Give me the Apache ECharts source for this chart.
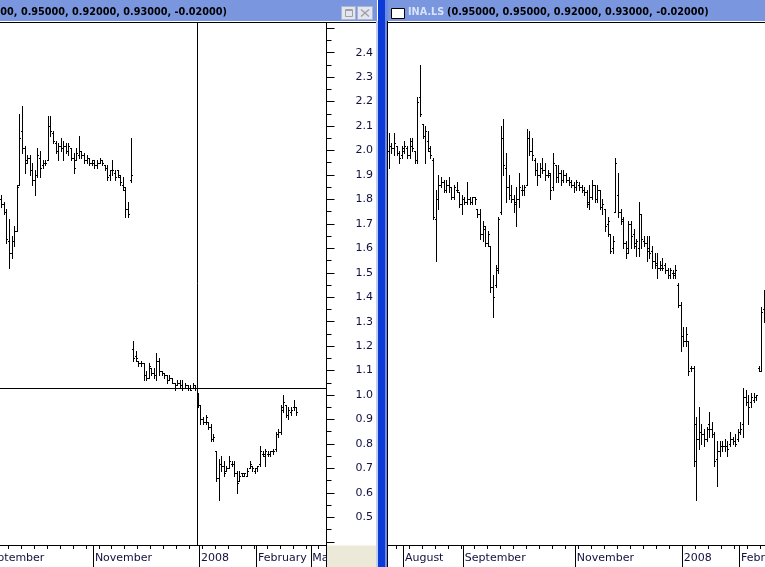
<!DOCTYPE html>
<html><head><meta charset="utf-8">
<script src="https://cdn.jsdelivr.net/npm/echarts@6/dist/echarts.min.js"></script>
<style>html,body{margin:0;padding:0;background:#fff;}#c{width:765px;height:567px;}</style>
</head><body><div id="c"></div>
<script>
// ---------- data ----------
const symbol = 'INA.LS';
const yTickLabels = ['0.5','0.6','0.7','0.8','0.9','1.0','1.1','1.2','1.3','1.4','1.5','1.6','1.7','1.8','1.9','2.0','2.1','2.2','2.3','2.4'];

// left pane (daily bars; index 0 = first September session)
const leftCount = 133;
const leftStart = 7;
const leftMonthNames = ['September','November','2008','February','March'];
const leftMonthIdx = [0, 43, 84, 106, 127];
const leftOpen = [1.80,1.78,1.75,1.63,1.58,1.63,1.67,1.86,2.08,2.01, 1.96,1.97,1.92,1.88,1.90,1.97,1.94,1.95,1.96,2.10, 2.07,2.03,2.00,2.02,2.01,2.02,2.00,2.01,1.97,1.96, 1.98,2.00,1.98,1.96,1.97,1.95,1.95,1.94,1.95,1.96, 1.94,1.93,1.90,1.92,1.91,1.92,1.89,1.86,1.84,1.76, 1.88,
  1.19,1.16,1.14,1.13,1.13,1.08,1.07,1.11,1.09,1.08, 1.14,1.10,1.09,1.08,1.06,1.07,1.05,1.04,1.05,1.04, 1.03,1.04,1.03,1.03,1.04,1.01,0.96,0.90,0.89,0.89, 0.87,0.82,0.77,0.66,0.72,0.71,0.69,0.70,0.72,0.72, 0.68,0.65,0.68,0.67,0.67,0.70,0.71,0.69,0.70,0.72, 0.76,0.75,0.76,0.76,0.77,0.78,0.84,0.85,0.95,0.96, 0.92,0.93,0.95,0.95];
const leftHigh = [1.82,1.79,1.76,1.72,1.65,1.69,1.86,2.15,2.18,2.02, 1.98,1.98,1.95,1.92,2.01,2.00,1.96,1.96,2.14,2.14, 2.08,2.04,2.03,2.05,2.04,2.03,2.03,2.01,1.99,2.01, 2.06,2.00,1.99,1.98,1.97,1.96,1.96,1.96,1.97,1.96, 1.94,1.94,1.92,1.96,1.92,1.92,1.90,1.89,1.85,1.79, 2.05,
  1.22,1.18,1.14,1.14,1.13,1.10,1.13,1.11,1.11,1.17, 1.15,1.10,1.09,1.08,1.08,1.07,1.05,1.06,1.06,1.06, 1.05,1.04,1.04,1.05,1.04,1.01,0.96,0.91,0.92,0.89, 0.88,0.84,0.77,0.74,0.75,0.73,0.71,0.75,0.73,0.73, 0.69,0.69,0.68,0.68,0.70,0.73,0.71,0.70,0.71,0.79, 0.77,0.78,0.77,0.77,0.78,0.85,0.86,0.96,1.00,0.96, 0.95,0.95,0.98,0.95];
const leftLow = [1.77,1.74,1.62,1.52,1.56,1.61,1.67,1.86,1.99,1.91, 1.95,1.90,1.86,1.82,1.89,1.89,1.93,1.94,1.96,2.06, 2.03,1.99,1.96,2.00,1.96,1.99,1.98,1.96,1.91,1.96, 1.97,1.97,1.95,1.95,1.94,1.94,1.93,1.93,1.95,1.94, 1.92,1.88,1.88,1.90,1.88,1.89,1.86,1.84,1.73,1.73, 1.87,
  1.14,1.14,1.12,1.12,1.06,1.06,1.07,1.08,1.07,1.06, 1.08,1.08,1.07,1.05,1.06,1.05,1.02,1.04,1.03,1.02, 1.03,1.02,1.02,1.03,1.02,0.95,0.88,0.88,0.88,0.86, 0.81,0.81,0.65,0.57,0.69,0.67,0.69,0.70,0.71,0.67, 0.60,0.65,0.67,0.67,0.67,0.70,0.69,0.68,0.69,0.71, 0.75,0.71,0.75,0.75,0.76,0.77,0.83,0.84,0.93,0.91, 0.90,0.92,0.94,0.92];
const leftClose = [1.78,1.75,1.64,1.58,1.63,1.67,1.85,2.05,2.01,1.95, 1.97,1.92,1.88,1.90,1.98,1.93,1.95,1.95,2.10,2.08, 2.04,2.00,2.02,2.01,2.02,2.00,2.02,1.97,1.93,1.99, 2.00,1.98,1.96,1.97,1.95,1.96,1.94,1.95,1.96,1.95, 1.93,1.89,1.92,1.92,1.89,1.90,1.87,1.85,1.76,1.74, 1.90,
  1.15,1.15,1.13,1.13,1.08,1.07,1.12,1.09,1.08,1.14, 1.10,1.09,1.08,1.06,1.07,1.05,1.03,1.05,1.04,1.03, 1.04,1.03,1.02,1.04,1.03,0.96,0.90,0.89,0.91,0.87, 0.82,0.83,0.66,0.72,0.71,0.68,0.70,0.73,0.72,0.68, 0.64,0.67,0.68,0.68,0.69,0.72,0.70,0.70,0.71,0.77, 0.76,0.77,0.76,0.77,0.77,0.84,0.85,0.94,0.97,0.92, 0.94,0.94,0.95,0.93];
const crossIdx = 83;
const crossPrice = 1.028;

// right pane
const rightCount = 145;
const rightStart = 0;
const rightMonthNames = ['August','September','November','2008','February'];
const rightMonthIdx = [6, 29, 72, 113, 135];
const rightOpen = [2.00,2.02,2.01,2.02,1.99,1.98,2.00,2.01,1.98,2.02, 2.00,1.96,2.22,2.11,2.06,2.04,2.00,1.96,1.72,1.80, 1.86,1.87,1.84,1.86,1.85,1.81,1.84,1.83,1.78,1.80, 1.79,1.80,1.79,1.81,1.76,1.74,1.66,1.68,1.62,1.61, 1.44,1.45,1.52,1.75,2.05,1.93,1.85,1.82,1.80,1.79, 1.80,1.84,1.84,1.86,2.05,2.00,1.96,1.92,1.90,1.93, 1.92,1.90,1.90,1.85,1.94,1.89,1.91,1.88,1.90,1.88, 1.87,1.86,1.85,1.86,1.85,1.84,1.83,1.79,1.81,1.86, 1.80,1.84,1.77,1.76,1.70,1.66,1.60,1.75,1.82,1.75, 1.71,1.62,1.60,1.70,1.66,1.61,1.60,1.74,1.63,1.62, 1.60,1.59,1.55,1.53,1.52,1.52,1.53,1.51,1.49,1.50, 1.50,1.45,1.37,1.24,1.22,1.22,1.11,1.11,0.88,0.82, 0.85,0.84,0.82,0.88,0.86,0.84,0.74,0.77,0.79,0.79, 0.79,0.80,0.82,0.81,0.82,0.85,0.88,0.99,0.97,0.97, 0.98,0.99,1.11,1.10,1.35];
const rightHigh = [2.07,2.03,2.07,2.02,2.00,2.02,2.04,2.02,2.05,2.05, 2.00,2.22,2.35,2.11,2.10,2.08,2.02,1.97,1.84,1.90, 1.89,1.88,1.88,1.89,1.85,1.86,1.87,1.83,1.82,1.81, 1.87,1.81,1.81,1.81,1.76,1.76,1.71,1.69,1.67,1.61, 1.49,1.53,1.73,2.10,2.13,1.99,1.90,1.86,1.82,1.85, 1.91,1.86,1.86,2.09,2.08,2.05,1.97,1.95,1.95,1.97, 1.95,1.92,1.91,1.99,1.94,1.94,1.92,1.92,1.91,1.89, 1.88,1.87,1.88,1.87,1.86,1.85,1.84,1.86,1.88,1.86, 1.86,1.84,1.80,1.76,1.73,1.66,1.65,1.97,1.91,1.76, 1.73,1.63,1.71,1.71,1.68,1.64,1.79,1.74,1.65,1.65, 1.65,1.61,1.58,1.58,1.55,1.56,1.54,1.52,1.52,1.51, 1.53,1.46,1.38,1.28,1.28,1.22,1.12,1.12,0.91,0.95, 0.88,0.86,0.87,0.93,0.89,0.85,0.81,0.81,0.81,0.82, 0.81,0.85,0.83,0.84,0.86,0.89,1.03,1.02,1.00,1.01, 1.01,1.00,1.12,1.36,1.43];
const rightLow = [1.93,1.99,1.98,1.98,1.95,1.97,1.99,1.97,1.97,2.00, 1.95,1.95,2.14,2.05,1.95,2.00,1.97,1.72,1.55,1.76, 1.85,1.83,1.83,1.83,1.80,1.80,1.83,1.77,1.74,1.78, 1.78,1.78,1.78,1.78,1.73,1.64,1.63,1.61,1.61,1.42, 1.32,1.44,1.50,1.74,1.90,1.79,1.80,1.79,1.75,1.69, 1.77,1.82,1.82,1.86,1.98,1.96,1.90,1.86,1.89,1.91, 1.88,1.89,1.80,1.84,1.87,1.87,1.86,1.87,1.87,1.86, 1.85,1.83,1.84,1.84,1.83,1.82,1.77,1.76,1.80,1.79, 1.79,1.76,1.74,1.67,1.65,1.58,1.58,1.75,1.73,1.70, 1.60,1.56,1.58,1.60,1.60,1.57,1.57,1.60,1.61,1.55, 1.56,1.52,1.52,1.48,1.51,1.51,1.50,1.48,1.48,1.48, 1.48,1.36,1.18,1.20,1.20,1.08,1.10,0.71,0.57,0.78, 0.80,0.79,0.81,0.83,0.83,0.71,0.63,0.75,0.77,0.77, 0.75,0.79,0.80,0.79,0.81,0.84,0.83,0.96,0.88,0.95, 0.97,0.98,1.10,1.10,1.30];
const rightClose = [2.02,2.01,2.03,1.99,1.97,2.01,2.02,1.98,2.04,2.01, 1.96,2.20,2.15,2.06,2.08,2.01,1.98,1.73,1.80,1.86, 1.87,1.84,1.86,1.85,1.81,1.85,1.84,1.78,1.80,1.79, 1.80,1.79,1.81,1.80,1.74,1.66,1.69,1.62,1.66,1.44, 1.40,1.51,1.72,2.05,1.94,1.85,1.82,1.80,1.78,1.80, 1.85,1.84,1.85,2.05,2.00,1.98,1.92,1.90,1.93,1.92, 1.90,1.91,1.84,1.95,1.89,1.91,1.88,1.90,1.88,1.87, 1.86,1.85,1.87,1.85,1.84,1.83,1.78,1.81,1.86,1.80, 1.84,1.77,1.78,1.69,1.71,1.59,1.63,1.95,1.75,1.72, 1.62,1.58,1.70,1.65,1.62,1.63,1.74,1.64,1.62,1.59, 1.58,1.55,1.54,1.52,1.53,1.52,1.51,1.49,1.51,1.49, 1.51,1.37,1.24,1.22,1.25,1.10,1.11,0.73,0.82,0.85, 0.84,0.82,0.86,0.86,0.84,0.73,0.77,0.79,0.79,0.79, 0.78,0.82,0.81,0.80,0.85,0.86,0.99,0.97,0.95,0.99, 0.99,1.00,1.10,1.34,1.42];

// ---------- build ----------
function cats(n){ const a=[]; for(let i=0;i<n;i++) a.push(String(i)); return a; }
function rows(start,o,h,l,c){ return o.map((v,k)=>[start+k, v, h[k], l[k], c[k]]); }
const leftRows = rows(leftStart,leftOpen,leftHigh,leftLow,leftClose);
const rightRows = rows(rightStart,rightOpen,rightHigh,rightLow,rightClose);

const n = leftClose.length;
const last = [leftOpen[n-1], leftHigh[n-1], leftLow[n-1], leftClose[n-1], leftClose[n-1]-leftClose[n-2]];
const titleValues = '(' + last.map(v=>v.toFixed(5)).join(', ') + ')';

function renderOHLC(params, api){
  const idx = api.value(0);
  const ph = api.coord([idx, api.value(2)]);
  const pl = api.coord([idx, api.value(3)]);
  const po = api.coord([idx, api.value(1)]);
  const pc = api.coord([idx, api.value(4)]);
  const x = Math.floor(ph[0]) + 0.5;
  const yH = Math.round(ph[1]), yL = Math.round(pl[1]) + 1;
  const yO = Math.round(po[1]) + 0.5, yC = Math.round(pc[1]) + 0.5;
  const st = {stroke:'#000', lineWidth:1};
  return {type:'group', children:[
    {type:'line', shape:{x1:x,y1:yH,x2:x,y2:yL}, style:st},
    {type:'line', shape:{x1:x-1.5,y1:yO,x2:x,y2:yO}, style:st},
    {type:'line', shape:{x1:x,y1:yC,x2:x+1.5,y2:yC}, style:st}
  ]};
}

const GRID_TOP = 28.25, GRID_H = 513.5;
const font11 = {fontFamily:'DejaVu Sans', fontSize:11, color:'#101040'};
const titleFont = 'bold 9.7px "DejaVu Sans"';

function bottomAxes(gridIndex, cat, monthIdx, monthNames, weekTest){
  return [
    {type:'category', gridIndex, data:cat, position:'bottom', offset:3.25, boundaryGap:true,
     axisLine:{show:true, lineStyle:{color:'#000', width:1}},
     axisTick:{show:true, interval:(i)=>weekTest(i), length:4, lineStyle:{color:'#000'}},
     axisLabel:{show:false}, splitLine:{show:false}},
    {type:'category', gridIndex, data:cat, position:'bottom', offset:3.25, boundaryGap:true,
     axisLine:{show:false},
     axisTick:{show:true, interval:(i)=>monthIdx.includes(i), length:22, lineStyle:{color:'#000'}},
     axisLabel:Object.assign({show:true, interval:(i)=>monthIdx.includes(i),
       formatter:(v,i)=>{const k=monthIdx.indexOf(Number(v)); return k>=0?monthNames[k]:'';},
       align:'left', margin:8}, font11),
     splitLine:{show:false}}
  ];
}

const chart = echarts.init(document.getElementById('c'), null, {renderer:'canvas', width:765, height:567});

const black = {stroke:'#000', lineWidth:1};
const chrome = [
  {type:'rect', shape:{x:0,y:0,width:377,height:21}, style:{fill:'#7a96df'}},
  {type:'rect', shape:{x:388,y:0,width:377,height:21}, style:{fill:'#7a96df'}},
  {type:'line', shape:{x1:0,y1:22.5,x2:377,y2:22.5}, style:black},
  {type:'line', shape:{x1:388,y1:22.5,x2:765,y2:22.5}, style:black},
  {type:'line', shape:{x1:326.5,y1:22.5,x2:326.5,y2:545}, style:black},
  {type:'rect', shape:{x:327,y:545.5,width:50,height:22}, style:{fill:'#ece9d8'}, z:100},
  {type:'rect', shape:{x:376,y:21,width:2,height:546}, style:{fill:'#c3cdf0'}, z:100},
  {type:'rect', shape:{x:378,y:0,width:7,height:567}, style:{fill:'#0b3ad6'}, z:100},
  {type:'rect', shape:{x:385,y:0,width:3,height:567}, style:{fill:'#6d8ce6'}, z:100},
  {type:'line', shape:{x1:387.5,y1:21,x2:387.5,y2:567}, style:black, z:100},
  // left title
  {type:'text', x:227, y:12, style:{text:titleValues, font:titleFont, fill:'#000', textAlign:'right', textVerticalAlign:'middle'}},
  // buttons
  {type:'rect', shape:{x:341.5,y:6.5,width:14,height:13}, style:{fill:'#e4e6ee', stroke:'#a9b4d6', lineWidth:1}},
  {type:'rect', shape:{x:345.5,y:9.5,width:7,height:7}, style:{fill:'none', stroke:'#a0a0a8', lineWidth:1}},
  {type:'line', shape:{x1:345.5,y1:10.5,x2:352.5,y2:10.5}, style:{stroke:'#a0a0a8', lineWidth:1}},
  {type:'rect', shape:{x:357.5,y:6.5,width:15,height:13}, style:{fill:'#e4e6ee', stroke:'#a9b4d6', lineWidth:1}},
  {type:'line', shape:{x1:361,y1:9.5,x2:369,y2:16.5}, style:{stroke:'#a0a0a8', lineWidth:1.5}},
  {type:'line', shape:{x1:369,y1:9.5,x2:361,y2:16.5}, style:{stroke:'#a0a0a8', lineWidth:1.5}},
  // right title
  {type:'rect', shape:{x:391.5,y:8.5,width:13,height:10}, style:{fill:'#fff', stroke:'#000', lineWidth:1}},
  {type:'text', x:408, y:12, style:{text:symbol, font:titleFont, fill:'#d8e2f8', textAlign:'left', textVerticalAlign:'middle'}},
  {type:'text', x:447, y:12, style:{text:titleValues, font:titleFont, fill:'#000', textAlign:'left', textVerticalAlign:'middle'}}
];

const option = {
  animation:false,
  backgroundColor:'#ffffff',
  grid:[
    {left:-17.7, top:GRID_TOP, width:344.2, height:GRID_H, outerBoundsMode:'none', containLabel:false},
    {left:388, top:GRID_TOP, width:rightCount*2.605, height:GRID_H, outerBoundsMode:'none', containLabel:false}
  ],
  xAxis:[].concat(
    bottomAxes(0, cats(leftCount), leftMonthIdx, leftMonthNames, (i)=>i%5===0),
    bottomAxes(1, cats(rightCount), rightMonthIdx, rightMonthNames, (i)=>(i+2)%5===0)
  ),
  yAxis:[
    {type:'value', gridIndex:0, position:'right', min:0.4, max:2.5, interval:0.1,
     axisLine:{show:true, lineStyle:{color:'#000'}},
     axisTick:{show:true, length:8, lineStyle:{color:'#000'}},
     minorTick:{show:true, splitNumber:2, length:5, lineStyle:{color:'#000'}},
     splitLine:{show:false}, minorSplitLine:{show:false},
     axisLabel:Object.assign({margin:29, padding:[5,0,0,0], formatter:(v)=>{const s=v.toFixed(1); return yTickLabels.includes(s)?s:'';}}, font11)},
    {type:'value', gridIndex:1, min:0.4, max:2.5, interval:0.1, show:false}
  ],
  series:[
    {type:'custom', xAxisIndex:0, yAxisIndex:0, renderItem:renderOHLC, data:leftRows, encode:{x:0, y:[1,2,3,4]}, clip:true, silent:true},
    {type:'custom', xAxisIndex:2, yAxisIndex:1, renderItem:renderOHLC, data:rightRows, encode:{x:0, y:[1,2,3,4]}, clip:true, silent:true}
  ],
  graphic:{elements:chrome}
};
chart.setOption(option);

const cp = chart.convertToPixel({xAxisIndex:0, yAxisIndex:0}, [crossIdx, crossPrice]);
const cx = Math.round(cp[0]) - 0.5, cy = Math.round(cp[1]) + 0.5;
chart.setOption({graphic:{elements:chrome.concat([
  {type:'line', shape:{x1:cx,y1:22.5,x2:cx,y2:545}, style:black, z:50},
  {type:'line', shape:{x1:0,y1:cy,x2:326,y2:cy}, style:black, z:50}
])}});
</script>
</body></html>
